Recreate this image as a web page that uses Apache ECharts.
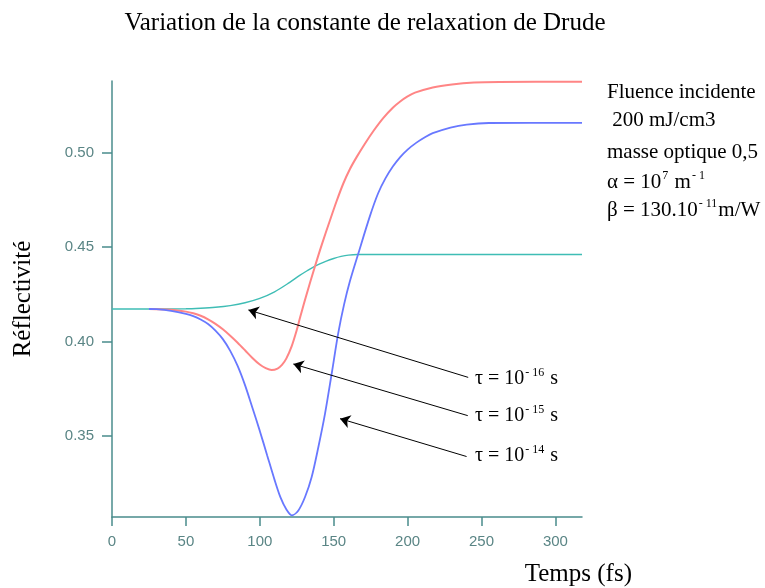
<!DOCTYPE html>
<html>
<head>
<meta charset="utf-8">
<script src="https://cdn.jsdelivr.net/npm/echarts@6/dist/echarts.min.js"></script>
<style>html,body{margin:0;padding:0;background:#fff;}#chart{width:765px;height:588px;}</style>
</head>
<body>
<div id="chart"></div>
<script>
// Time axis (fs) and reflectivity values
const tTeal = [0, 50, 60, 70, 80, 90, 100, 110, 120, 127, 132, 137.4, 145, 150, 155, 160, 166, 318];
const rTeal = [0.4172, 0.4173, 0.4176, 0.4181, 0.419, 0.4205, 0.4228, 0.4263, 0.4312, 0.435, 0.4375, 0.44, 0.4426, 0.444, 0.4451, 0.4458, 0.4461, 0.4461];

const tRed = [25, 40, 50, 55, 60, 65, 70, 75, 80, 85, 90, 95, 100, 104, 108, 112, 115, 118, 121.6, 125, 127.2, 131, 137.4, 142, 147.5, 152, 156.5, 161, 165.5, 171, 177, 183.5, 190, 195, 200, 205, 217, 230, 245, 262, 318];
const rRed = [0.4172, 0.4168, 0.4158, 0.4149, 0.4136, 0.4117, 0.4093, 0.4064, 0.403, 0.3993, 0.3953, 0.3912, 0.3877, 0.3858, 0.3848, 0.3856, 0.3875, 0.391, 0.3975, 0.406, 0.4125, 0.4232, 0.44, 0.4515, 0.4643, 0.4745, 0.4838, 0.4915, 0.4978, 0.5048, 0.5118, 0.5185, 0.524, 0.5273, 0.53, 0.532, 0.5348, 0.5364, 0.5374, 0.5377, 0.5378];

const tBlue = [25, 30, 40, 50, 55, 60, 65, 70, 75, 80, 85, 90, 95, 100, 105, 110, 114, 118, 121.6, 126.1, 130.6, 135.1, 139.6, 144.1, 148.6, 153.1, 157, 161, 166.6, 174.5, 180, 185, 190, 195, 200, 206, 212, 217, 229, 240, 255, 318];
const rBlue = [0.4172, 0.4171, 0.4162, 0.4146, 0.4134, 0.4116, 0.4092, 0.4057, 0.4012, 0.395, 0.387, 0.3768, 0.3648, 0.3525, 0.3395, 0.3265, 0.3172, 0.3108, 0.3077, 0.3103, 0.3174, 0.328, 0.3438, 0.3615, 0.3827, 0.4045, 0.4195, 0.432, 0.4465, 0.4665, 0.4785, 0.4865, 0.4928, 0.4978, 0.5018, 0.5055, 0.5085, 0.5105, 0.5135, 0.5151, 0.5159, 0.516];

const xTicks = [0, 50, 100, 150, 200, 250, 300];
const yTicks = [0.35, 0.40, 0.45, 0.50];

// Arrow annotations: [from, to] in data coordinates
const arrows = [
  [[241, 0.3809], [92.3, 0.4167]],
  [[240.7, 0.3606], [122.7, 0.388]],
  [[239.9, 0.3389], [154.3, 0.359]]
];
const tauLabels = ['{b|τ = 10}{s|- 16}{b| s}', '{b|τ = 10}{s|- 15}{b| s}', '{b|τ = 10}{s|- 14}{b| s}'];
const infoLines = ['{c|Fluence incidente}', '{c| 200 mJ/cm3}', '{c|masse optique 0,5}', '{c|α = 10}{s|7}{c| m}{s|- 1}', '{c|β = 130.10}{s|- 11}{c|m/W}'];

const zip = (a, b) => a.map((v, i) => [v, b[i]]);
const serif = 'Liberation Serif';
const axisCol = '#4a8c8c';
const labelCol = '#5a8585';

const richStyle = {
  b: { fontFamily: serif, fontSize: 20, color: '#000', lineHeight: 24 },
  c: { fontFamily: serif, fontSize: 21, color: '#000', lineHeight: 24 },
  s: { fontFamily: serif, fontSize: 12, color: '#000', lineHeight: 24, verticalAlign: 'top', padding: [0, 1, 0, 1] }
};

const chart = echarts.init(document.getElementById('chart'));
const graphics = [];
const tauTops = [367, 404, 444];
tauLabels.forEach((t, i) => graphics.push({ type: 'text', left: 475, top: tauTops[i], style: { text: t, rich: richStyle } }));
const infoTops = [82, 110, 142, 170, 198];
infoLines.forEach((t, i) => graphics.push({ type: 'text', left: 607, top: infoTops[i], style: { text: t, rich: richStyle } }));

chart.setOption({
  animation: false,
  backgroundColor: '#fff',
  title: {
    text: 'Variation de la constante de relaxation de Drude',
    left: 360, top: 6, textAlign: 'center',
    textStyle: { fontFamily: serif, fontSize: 25, fontWeight: 'normal', color: '#000' }
  },
  grid: { left: 112, right: 183, top: 81, bottom: 71, containLabel: false },
  xAxis: {
    type: 'value', min: 0, max: 318,
    name: 'Temps (fs)', nameLocation: 'end',
    nameTextStyle: { fontFamily: serif, fontSize: 25, color: '#000', align: 'right', verticalAlign: 'top', padding: [45, 0, 0, 0] },
    nameGap: 50,
    axisLine: { lineStyle: { color: axisCol, width: 1.5 } },
    axisTick: { show: true, length: 9, lineStyle: { color: axisCol, width: 1.5 }, customValues: xTicks },
    axisLabel: { customValues: xTicks, margin: 17, color: labelCol, fontFamily: 'Liberation Sans', fontSize: 15 },
    splitLine: { show: false }
  },
  yAxis: {
    type: 'value', min: 0.3068, max: 0.5382,
    name: 'Réflectivité', nameLocation: 'middle', nameRotate: 90, nameGap: 76,
    nameTextStyle: { fontFamily: serif, fontSize: 25, color: '#000' },
    axisLine: { show: true, lineStyle: { color: axisCol, width: 1.5 } },
    axisTick: { show: true, length: 10, lineStyle: { color: axisCol, width: 1.5 }, customValues: yTicks },
    axisLabel: { customValues: yTicks, margin: 18, color: labelCol, fontFamily: 'Liberation Sans', fontSize: 15, formatter: v => v.toFixed(2) },
    splitLine: { show: false }
  },
  graphic: graphics,
  series: [
    {
      name: 'tau16', type: 'line', data: zip(tTeal, rTeal), showSymbol: false, smooth: 0.3,
      lineStyle: { color: '#3fbdb5', width: 1.4 },
      markLine: {
        silent: true, symbol: ['none', 'arrow'], symbolSize: 10, animation: false,
        label: { show: false },
        lineStyle: { color: '#000', width: 1, type: 'solid' },
        data: arrows.map(a => [{ coord: a[0] }, { coord: a[1] }])
      }
    },
    { name: 'tau15', type: 'line', data: zip(tRed, rRed), showSymbol: false, smooth: 0.3, lineStyle: { color: '#ff8585', width: 2 } },
    { name: 'tau14', type: 'line', data: zip(tBlue, rBlue), showSymbol: false, smooth: 0.3, lineStyle: { color: '#6878ff', width: 1.8 } }
  ]
});
</script>
</body>
</html>
